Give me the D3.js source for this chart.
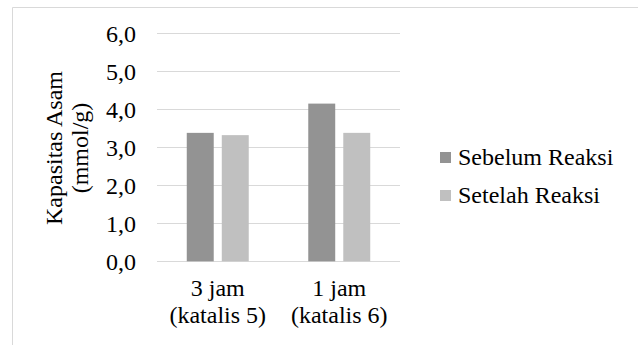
<!DOCTYPE html>
<html>
<head>
<meta charset="utf-8">
<script src="https://cdn.jsdelivr.net/npm/d3@7"></script>
<style>
  body { margin: 0; background: #fff; }
</style>
</head>
<body>
<div id="chart"></div>
<script>
// Chart data
const categories = [["3 jam", "(katalis 5)"], ["1 jam", "(katalis 6)"]];
const seriesNames = ["Sebelum Reaksi", "Setelah Reaksi"];
const sebelum = [3.38, 4.15];
const setelah = [3.32, 3.38];
const yTicks = [0, 1, 2, 3, 4, 5, 6];
const colors = ["#939393", "#c0c0c0"];

const width = 638, height = 345;
const plot = { left: 157, right: 400, top: 33.3, bottom: 261.3 };
const fontFamily = "'Times New Roman', Times, 'Liberation Serif', Tinos, 'DejaVu Serif', 'Noto Serif', serif";
const fontSize = 24;

const svg = d3.select('#chart')
  .append('svg')
  .attr('width', width)
  .attr('height', height)
  .style('font-family', fontFamily);

// Outer frame (only top and left edges are visible)
svg.append('path')
  .attr('d', `M12.5,${height} V7.5 H${width}`)
  .attr('fill', 'none')
  .attr('stroke', '#d9d9d9')
  .attr('stroke-width', 1);

const x0 = d3.scaleBand()
  .domain(d3.range(categories.length))
  .range([plot.left, plot.right]);

const x1 = d3.scaleBand()
  .domain(d3.range(seriesNames.length))
  .range([0, x0.bandwidth()])
  .paddingInner(0.23)
  .paddingOuter(0.85);

const y = d3.scaleLinear()
  .domain([0, 6])
  .range([plot.bottom, plot.top]);

// Gridlines
svg.append('g')
  .selectAll('line')
  .data(yTicks)
  .join('line')
  .attr('x1', plot.left)
  .attr('x2', plot.right)
  .attr('y1', d => Math.round(y(d)) + 0.5)
  .attr('y2', d => Math.round(y(d)) + 0.5)
  .attr('stroke', '#d9d9d9')
  .attr('stroke-width', 1);

// Y tick labels
svg.append('g')
  .selectAll('text')
  .data(yTicks)
  .join('text')
  .style('font-family', fontFamily)
  .attr('x', 136)
  .attr('y', d => y(d))
  .attr('dy', '0.35em')
  .attr('text-anchor', 'end')
  .attr('font-size', fontSize)
  .attr('fill', '#000')
  .text(d => d3.format('.1f')(d).replace('.', ','));

// Bars
const series = [sebelum, setelah];
const groups = svg.append('g')
  .selectAll('g')
  .data(categories)
  .join('g')
  .attr('transform', (d, i) => `translate(${x0(i)},0)`);

groups.selectAll('rect')
  .data((d, i) => series.map((s, j) => ({ j, v: s[i] })))
  .join('rect')
  .attr('x', d => x1(d.j))
  .attr('width', x1.bandwidth())
  .attr('y', d => y(d.v))
  .attr('height', d => y(0) - y(d.v))
  .attr('fill', d => colors[d.j]);

// Category labels
groups.append('text')
  .style('font-family', fontFamily)
  .attr('text-anchor', 'middle')
  .attr('font-size', fontSize)
  .attr('fill', '#000')
  .selectAll('tspan')
  .data(d => d)
  .join('tspan')
  .attr('x', x0.bandwidth() / 2)
  .attr('y', (d, i) => 296 + i * 27)
  .text(d => d);

// Y axis title
svg.append('text')
  .style('font-family', fontFamily)
  .attr('transform', 'translate(0,148) rotate(-90)')
  .attr('text-anchor', 'middle')
  .attr('font-size', fontSize)
  .attr('fill', '#000')
  .selectAll('tspan')
  .data(["Kapasitas Asam", "(mmol/g)"])
  .join('tspan')
  .attr('x', 0)
  .attr('y', (d, i) => 62 + i * 26)
  .text(d => d);

// Legend
const legend = svg.append('g')
  .selectAll('g')
  .data(seriesNames)
  .join('g')
  .attr('transform', (d, i) => `translate(440,${152 + i * 38})`);

legend.append('rect')
  .attr('width', 11)
  .attr('height', 11)
  .attr('fill', (d, i) => colors[i]);

legend.append('text')
  .style('font-family', fontFamily)
  .attr('x', 18)
  .attr('y', 13)
  .attr('font-size', fontSize)
  .attr('fill', '#000')
  .text(d => d);
</script>
</body>
</html>
